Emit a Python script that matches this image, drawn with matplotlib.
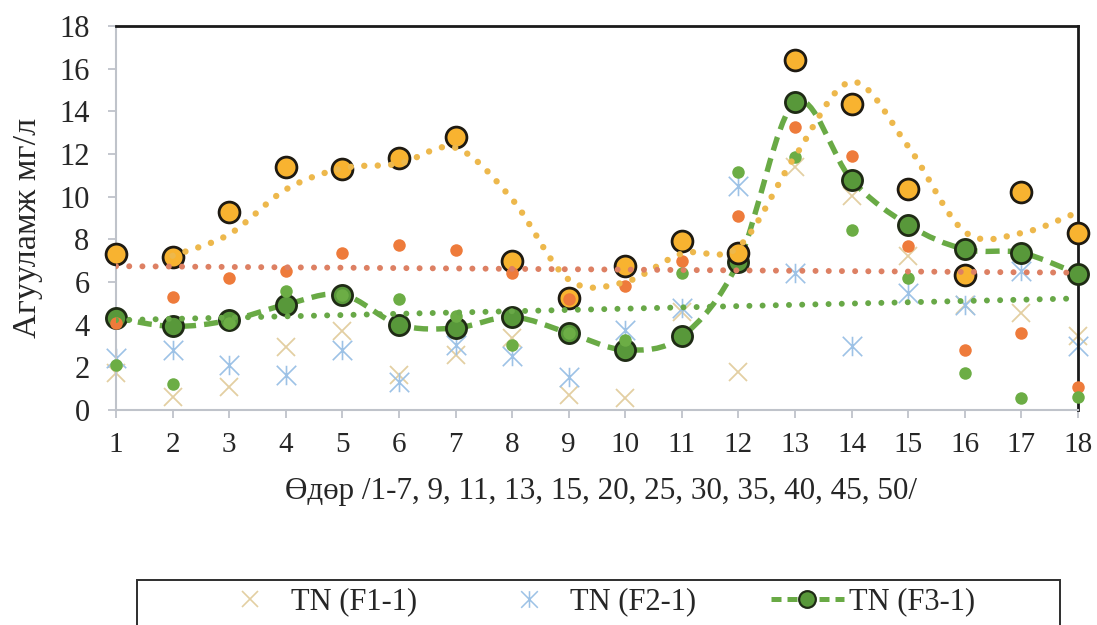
import numpy as np
import matplotlib
matplotlib.use("Agg")
import matplotlib.pyplot as plt
from matplotlib.path import Path
from matplotlib.patches import PathPatch, Rectangle
from matplotlib.lines import Line2D

plt.rcParams['font.family'] = ['Liberation Serif', 'DejaVu Serif']

# ---- data -------------------------------------------------------------
days = list(range(1, 19))
day_labels = [str(d) for d in days]

tn_f1_1 = [1.75, 0.63, 1.10, 2.93, 3.69, 1.65, 2.60, 3.37, 0.71, 0.55,
           4.60, 1.80, 11.37, 10.04, 7.22, 4.94, 4.55, 3.45]
tn_f2_1 = [2.43, 2.82, 2.12, 1.62, 2.82, 1.33, 3.06, 2.51, 1.57, 3.76,
           4.80, 10.50, 6.43, 2.98, 5.49, 4.94, 6.51, 2.98]
tn_f3_1 = [4.31, 3.92, 4.20, 4.94, 5.41, 4.00, 3.84, 4.36, 3.61, 2.82,
           3.45, 6.95, 14.43, 10.78, 8.67, 7.53, 7.37, 6.38]
series_gold = [7.29, 7.17, 9.30, 11.37, 11.29, 11.80, 12.78, 6.98, 5.25, 6.75,
               7.92, 7.37, 16.42, 14.35, 10.35, 6.35, 10.24, 8.31]
series_orange = [4.10, 5.29, 6.20, 6.51, 7.37, 7.73, 7.51, 6.43, 5.20, 5.80,
                 6.98, 9.10, 13.25, 11.92, 7.69, 2.82, 3.61, 1.10]
series_green = [2.12, 1.21, 4.10, 5.60, 5.40, 5.22, 4.39, 3.06, 3.60, 3.30,
                6.43, 11.14, 11.84, 8.42, 6.20, 1.73, 0.58, 0.63]

y_ticks = list(range(0, 19, 2))
x_title = "Өдөр /1-7, 9, 11, 13, 15, 20, 25, 30, 35, 40, 45, 50/"
y_title = "Агууламж мг/л"

# ---- styling ----------------------------------------------------------
C_TAN = '#E3CFA2'
C_BLUE = '#9DC2E6'
C_GOLD = '#F8B330'
C_GOLD_LINE = '#EDB84C'
C_ORANGE = '#EE7B3B'
C_ORANGE_LINE = '#DD8063'
C_GREEN = '#6CAD45'
C_GREEN_LINE = '#68A847'
C_F3 = '#58983A'
C_F3_LINE = '#69AA45'
C_TEXT = '#262626'
C_AXIS = '#BFC3CA'

W, H = 1097, 625
fig = plt.figure(figsize=(W / 100, H / 100), dpi=100)
ax = fig.add_axes([116 / W, 1 - 410 / H, (1078 - 116) / W, (410 - 26) / H])

# asterisk marker: an X with a vertical bar
asterisk = Path([(0, -1), (0, 1), (-1, -1), (1, 1), (-1, 1), (1, -1)],
                [Path.MOVETO, Path.LINETO, Path.MOVETO, Path.LINETO,
                 Path.MOVETO, Path.LINETO])


def smooth_path(xs, ys):
    """Bezier path through the points, in the style of a smoothed line."""
    pts = np.column_stack([xs, ys]).astype(float)
    n = len(pts)
    verts = [pts[0]]
    codes = [Path.MOVETO]
    for i in range(n - 1):
        p0 = pts[i - 1] if i > 0 else pts[i]
        p1 = pts[i]
        p2 = pts[i + 1]
        p3 = pts[i + 2] if i + 2 < n else pts[i + 1]
        verts += [p1 + (p2 - p0) / 6.0, p2 - (p3 - p1) / 6.0, p2]
        codes += [Path.CURVE4] * 3
    return Path(verts, codes)


x = np.array(days, dtype=float)

# scatter-only series
ax.plot(x, tn_f1_1, ls='none', marker='x', ms=13, mew=1.3, color=C_TAN,
        zorder=2, clip_on=False)
ax.plot(x, tn_f2_1, ls='none', marker=asterisk, ms=14, mew=1.2, color=C_BLUE,
        zorder=2, clip_on=False)

# TN (F3-1): smoothed dashed line with large circles
f3_curve = PathPatch(smooth_path(x, tn_f3_1), fill=False, edgecolor=C_F3_LINE,
                     lw=3.9, linestyle=(0, (2.6, 1.5)), zorder=3)
ax.add_patch(f3_curve)
ax.plot(x, tn_f3_1, ls='none', marker='o', ms=14.5, mfc=C_F3, mec='#1F2B15',
        mew=2.0, zorder=4, clip_on=False)

# gold circles
ax.plot(x, series_gold, ls='none', marker='o', ms=15, mfc=C_GOLD, mec='#1E1A12',
        mew=2.0, zorder=5, clip_on=False)

# small dots
ax.plot(x, series_orange, ls='none', marker='o', ms=9, mfc=C_ORANGE, mec='none',
        zorder=6, clip_on=False)
ax.plot(x, series_green, ls='none', marker='o', ms=9, mfc=C_GREEN, mec='none',
        zorder=7, clip_on=False)

# 2-period moving average of the gold series, smoothed and dotted
gold = np.array(series_gold)
mov_avg = (gold[1:] + gold[:-1]) / 2.0
ma_curve = PathPatch(smooth_path(x[1:], mov_avg), fill=False,
                     edgecolor=C_GOLD_LINE, lw=4.6,
                     linestyle=(0, (0.01, 2.1)), capstyle='round', zorder=8)
ax.add_patch(ma_curve)

# linear trendlines of the small-dot series
for vals, col in ((series_orange, C_ORANGE_LINE), (series_green, C_GREEN_LINE)):
    k, b = np.polyfit(x, vals, 1)
    ln, = ax.plot([x[0], x[-1]], [k * x[0] + b, k * x[-1] + b], color=col,
                  lw=4.3, linestyle=(0, (0.01, 2.2)), zorder=8)
    ln.set_dash_capstyle('round')

# ---- axes -------------------------------------------------------------
ax.set_xlim(1, 18)
ax.set_ylim(0, 18)
ax.set_xticks(days)
ax.set_xticklabels(day_labels)
ax.set_yticks(y_ticks)
ax.set_yticklabels([str(t) for t in y_ticks])

for side in ('left', 'bottom'):
    ax.spines[side].set_color(C_AXIS)
    ax.spines[side].set_linewidth(1.5)
for side in ('top', 'right'):
    ax.spines[side].set_color('#1A1A1A')
    ax.spines[side].set_linewidth(2.0)

ax.tick_params(axis='y', length=6, width=1.3, color=C_AXIS, pad=13,
               labelsize=22, labelcolor=C_TEXT)
ax.tick_params(axis='x', length=6, width=1.3, color=C_AXIS, pad=10,
               labelsize=21, labelcolor=C_TEXT)

fig.text(601 / W, 1 - 491 / H, x_title, ha='center', va='center',
         fontsize=22.4, color=C_TEXT)
fig.text(28 / W, 1 - 228 / H, y_title, ha='center', va='center',
         rotation=90, fontsize=24.6, color=C_TEXT)

# ---- legend -----------------------------------------------------------
handles = [
    Line2D([], [], ls='none', marker='x', ms=12, mew=1.2, color=C_TAN),
    Line2D([], [], ls='none', marker=asterisk, ms=12, mew=1.1, color=C_BLUE),
    Line2D([], [], color=C_F3_LINE, lw=3.6, linestyle=(0, (2.0, 1.2)),
           marker='o', ms=12, mfc=C_F3, mec='#1F2B15', mew=1.6),
]
labels = ['TN (F1-1)', 'TN (F2-1)', 'TN (F3-1)']
fig.legend(handles, labels, ncol=3, loc='center left',
           bbox_to_anchor=(213 / W, 1 - 602 / H), frameon=False,
           handlelength=2.4, handletextpad=0.15, columnspacing=2.45,
           borderaxespad=0, borderpad=0,
           prop={'size': 22}, labelcolor=C_TEXT)
fig.patches.append(Rectangle((137 / W, -0.2), (1060 - 137) / W,
                             0.2 + (625 - 580) / H, transform=fig.transFigure,
                             fill=False, edgecolor='#2E2E2E', lw=1.4))

fig.savefig('out.png', dpi=100)
